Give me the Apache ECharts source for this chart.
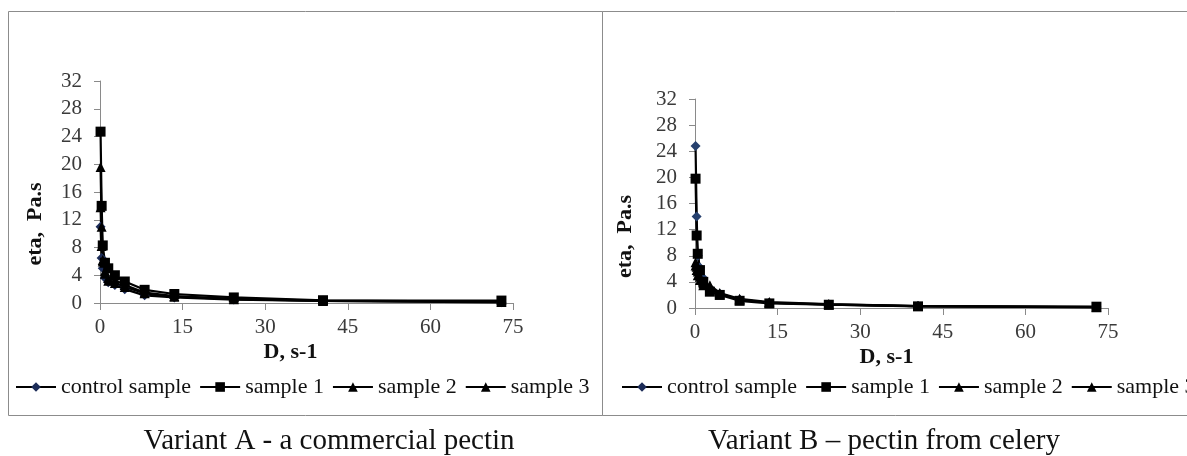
<!DOCTYPE html>
<html>
<head>
<meta charset="utf-8">
<script src="https://cdn.jsdelivr.net/npm/echarts@6/dist/echarts.min.js"></script>
<style>
  html, body { margin: 0; padding: 0; background: #fff; }
  #main { width: 1187px; height: 456px; }
</style>
</head>
<body>
<div id="main"></div>
<script>
// shear rate D, s-1
var shearRate = [0.1, 0.3, 0.5, 0.9, 1.5, 2.7, 4.5, 8.1, 13.5, 24.3, 40.5, 72.9];
var seriesNames = ["control sample", "sample 1", "sample 2", "sample 3"];
var xTicks = [0, 15, 30, 45, 60, 75];
var yTicks = [0, 4, 8, 12, 16, 20, 24, 28, 32];

// Variant A - commercial pectin, eta Pa.s
var controlA = [11.0, 6.5, 5.0, 3.6, 3.0, 2.6, 2.0, 1.1, 0.8, 0.5, 0.3, 0.1];
var sample1A = [24.7, 14.0, 8.3, 5.8, 5.0, 4.0, 3.1, 1.9, 1.3, 0.8, 0.4, 0.35];
var sample2A = [19.6, 11.0, 6.2, 4.6, 3.6, 3.3, 2.6, 1.5, 1.0, 0.6, 0.35, 0.2];
var sample3A = [13.8, 8.2, 6.0, 4.2, 3.2, 2.9, 2.3, 1.4, 0.9, 0.55, 0.3, 0.15];

// Variant B - pectin from celery
var controlB = [24.8, 14.0, 8.0, 6.2, 4.6, 3.0, 2.2, 1.3, 0.8, 0.55, 0.3, 0.15];
var sample1B = [19.8, 11.1, 8.3, 5.8, 4.0, 2.5, 2.0, 1.1, 0.7, 0.5, 0.25, 0.2];
var sample2B = [7.0, 6.3, 5.6, 4.8, 3.8, 3.5, 2.3, 1.4, 0.9, 0.6, 0.3, 0.15];
var sample3B = [6.5, 5.8, 5.0, 4.3, 3.5, 3.2, 2.1, 1.3, 0.8, 0.5, 0.3, 0.1];

var serif = "Liberation Serif";
var axisGray = "#8a8a8a";

function pairs(ys) {
  var out = [];
  for (var i = 0; i < ys.length; i++) {
    out.push([shearRate[i], ys[i]]);
  }
  return out;
}

function makeSeries(name, symbol, size, markColor, values, idx) {
  return {
    name: name,
    type: "line",
    xAxisIndex: idx,
    yAxisIndex: idx,
    symbol: symbol,
    symbolSize: size,
    showAllSymbol: true,
    lineStyle: { color: "#000", width: 2.2 },
    itemStyle: { color: markColor },
    data: pairs(values)
  };
}

function xAxisFor(idx, padRight) {
  return {
    type: "value",
    gridIndex: idx,
    min: xTicks[0],
    max: xTicks[xTicks.length - 1],
    interval: 15,
    name: "D, s-1",
    nameLocation: "middle",
    nameGap: 38,
    nameTextStyle: { fontFamily: serif, fontSize: 22, fontWeight: "bold", color: "#111", padding: [0, padRight, 0, 0] },
    axisLine: { show: true, onZero: false, lineStyle: { color: axisGray, width: 1 } },
    axisTick: { show: true, inside: false, length: 7, lineStyle: { color: axisGray } },
    axisLabel: { fontFamily: serif, fontSize: 21, color: "#3a3a3a", margin: 14 },
    splitLine: { show: false }
  };
}

function yAxisFor(idx, padRight, gap) {
  return {
    type: "value",
    gridIndex: idx,
    min: yTicks[0],
    max: yTicks[yTicks.length - 1],
    interval: 4,
    name: "eta,  Pa.s",
    nameLocation: "middle",
    nameGap: gap,
    nameRotate: 90,
    nameTextStyle: { fontFamily: serif, fontSize: 22, fontWeight: "bold", color: "#111", padding: [0, padRight, 0, 0] },
    axisLine: { show: true, onZero: false, lineStyle: { color: axisGray, width: 1 } },
    axisTick: { show: true, inside: false, length: 6, lineStyle: { color: axisGray } },
    axisLabel: { fontFamily: serif, fontSize: 21, color: "#3a3a3a", margin: 18 },
    splitLine: { show: false }
  };
}

function legendFor(left) {
  return {
    data: seriesNames,
    left: left,
    top: 376,
    width: 800,
    orient: "horizontal",
    itemWidth: 40,
    itemHeight: 12,
    itemGap: 8,
    padding: 0,
    textStyle: { fontFamily: serif, fontSize: 22, color: "#111" }
  };
}

var myChart = echarts.init(document.getElementById("main"));

var option = {
  backgroundColor: "#fff",
  animation: false,
  title: [
    {
      text: "Variant A - a commercial pectin",
      left: 329, top: 427, textAlign: "center", padding: 0,
      textStyle: { fontFamily: serif, fontSize: 29, fontWeight: "normal", color: "#111" }
    },
    {
      text: "Variant B \u2013 pectin from celery",
      left: 884, top: 427, textAlign: "center", padding: 0,
      textStyle: { fontFamily: serif, fontSize: 29, fontWeight: "normal", color: "#111" }
    }
  ],
  legend: [legendFor(15), legendFor(621)],
  grid: [
    { left: 100, top: 81, width: 413, height: 222 },
    { left: 695, top: 99, width: 413, height: 209 }
  ],
  xAxis: [xAxisFor(0, 32), xAxisFor(1, 30)],
  yAxis: [yAxisFor(0, 64, 54), yAxisFor(1, 66, 59)],
  graphic: [
    { type: "rect", shape: { x: 8.5, y: 11.5, width: 594, height: 404 }, style: { fill: "none", stroke: "#8c8c8c", lineWidth: 1 } },
    { type: "rect", shape: { x: 602.5, y: 11.5, width: 600, height: 404 }, style: { fill: "none", stroke: "#8c8c8c", lineWidth: 1 } }
  ],
  series: [
    makeSeries("control sample", "diamond", 10, "#1c2c58", controlA, 0),
    makeSeries("sample 3", "triangle", 10, "#000", sample3A, 0),
    makeSeries("sample 2", "triangle", 10, "#000", sample2A, 0),
    makeSeries("sample 1", "rect", 10, "#000", sample1A, 0),
    makeSeries("control sample", "diamond", 10, "#26406e", controlB, 1),
    makeSeries("sample 3", "triangle", 10, "#000", sample3B, 1),
    makeSeries("sample 2", "triangle", 10, "#000", sample2B, 1),
    makeSeries("sample 1", "rect", 10, "#000", sample1B, 1)
  ]
};

if (option && typeof option === "object") {
  myChart.setOption(option, true);
}
</script>
</body>
</html>
